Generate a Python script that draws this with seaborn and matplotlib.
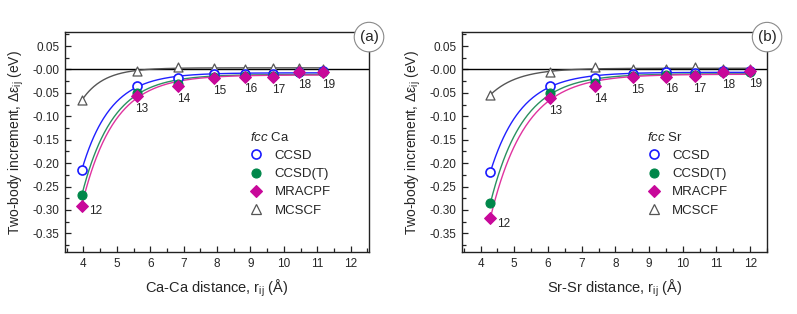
import numpy as np
import pandas as pd
import matplotlib
matplotlib.use("Agg")
import matplotlib.pyplot as plt
import seaborn as sns
from matplotlib.lines import Line2D

# ---------------- data ----------------
shell_labels = ["12", "13", "14", "15", "16", "17", "18", "19"]

x_ca = [3.95, 5.59, 6.84, 7.90, 8.83, 9.68, 10.45, 11.17]
ccsd_ca = [-0.215, -0.036, -0.019, -0.009, -0.009, -0.009, -0.005, -0.004]
ccsdt_ca = [-0.269, -0.050, -0.031, -0.015, -0.013, -0.014, -0.006, -0.005]
mracpf_ca = [-0.291, -0.056, -0.036, -0.018, -0.015, -0.016, -0.006, -0.005]
mcscf_ca = [-0.066, -0.003, 0.006, 0.004, 0.002, 0.004, 0.003, 0.002]

x_sr = [4.29, 6.05, 7.40, 8.51, 9.51, 10.35, 11.20, 12.00]
ccsd_sr = [-0.219, -0.035, -0.019, -0.009, -0.006, -0.007, -0.004, -0.004]
ccsdt_sr = [-0.286, -0.050, -0.029, -0.013, -0.011, -0.011, -0.006, -0.005]
mracpf_sr = [-0.318, -0.060, -0.036, -0.016, -0.015, -0.013, -0.005, -0.004]
mcscf_sr = [-0.054, -0.005, 0.005, 0.001, 0.000, 0.005, 0.002, 0.002]

methods = ["CCSD", "CCSD(T)", "MRACPF", "MCSCF"]

# ---------------- style ----------------
sns.set_theme(style="ticks")
plt.rcParams["font.family"] = ["Liberation Sans", "DejaVu Sans"]
plt.rcParams["mathtext.fontset"] = "custom"
plt.rcParams["mathtext.rm"] = "Liberation Sans"
plt.rcParams["mathtext.it"] = "Liberation Sans:italic"
plt.rcParams["axes.linewidth"] = 1.0

styles = {
    "CCSD": dict(marker="o", fc="white", ec="#1a1aff", line="#2020ff", s=42, lw=1.2),
    "CCSD(T)": dict(marker="o", fc="#00874a", ec="#00874a", line="#2a9060", s=42, lw=0.8),
    "MRACPF": dict(marker="D", fc="#c8089a", ec="#c8089a", line="#e0339f", s=36, lw=0.8),
    "MCSCF": dict(marker="^", fc="white", ec="#555555", line="#555555", s=42, lw=0.9),
}


def fit_curve(x, y):
    x = np.asarray(x, float)
    y = np.asarray(y, float)
    best = None
    for b in np.linspace(0.2, 5.0, 1921):
        A = np.column_stack([np.exp(-b * x), np.ones_like(x)])
        coef, *_ = np.linalg.lstsq(A, y, rcond=None)
        r = np.sum((A @ coef - y) ** 2)
        if best is None or r < best[0]:
            best = (r, b, coef)
    _, b, (a, c) = best
    xx = np.linspace(x[0], x[-1], 300)
    return xx, c + a * np.exp(-b * xx)


fig = plt.figure(figsize=(7.97, 3.14), dpi=100)
ax_a = fig.add_axes([0.0816, 0.197, 0.3814, 0.701])
ax_b = fig.add_axes([0.5797, 0.197, 0.3827, 0.701])

panels = [
    (ax_a, x_ca, [ccsd_ca, ccsdt_ca, mracpf_ca, mcscf_ca], "Ca", "(a)", (3.45, 12.55)),
    (ax_b, x_sr, [ccsd_sr, ccsdt_sr, mracpf_sr, mcscf_sr], "Sr", "(b)", (3.45, 12.4)),
]

for ax, xs, series, elem, tag, xlim in panels:
    ax.axhline(0, color="black", lw=1.0, zorder=1)
    # fitted curves
    for m, ys in zip(methods, series):
        xx, yy = fit_curve(xs, ys)
        cdf = pd.DataFrame({"x": xx, "y": yy})
        sns.lineplot(data=cdf, x="x", y="y", ax=ax, color=styles[m]["line"],
                     lw=1.0, zorder=2, legend=False)
    # markers
    for m in ["MCSCF", "CCSD", "CCSD(T)", "MRACPF"]:
        ys = series[methods.index(m)]
        st = styles[m]
        pdf = pd.DataFrame({"x": xs, "y": ys})
        sns.scatterplot(data=pdf, x="x", y="y", ax=ax, marker=st["marker"],
                        s=st["s"], facecolor=st["fc"], edgecolor=st["ec"],
                        linewidth=st["lw"], zorder=3, legend=False)
    # shell labels
    mr = series[2]
    for i, (xv, yv, lab) in enumerate(zip(xs, mr, shell_labels)):
        if i == 0:
            ax.annotate(lab, (xv, yv), xytext=(5, -4), textcoords="offset points",
                        ha="left", va="center", fontsize=8.5)
        else:
            ax.annotate(lab, (xv, yv), xytext=(4, -5), textcoords="offset points",
                        ha="center", va="top", fontsize=8.5)

    ax.set_xlim(*xlim)
    ax.set_ylim(-0.39, 0.08)
    ax.set_xticks(np.arange(4, 13, 1))
    ax.set_xticks(np.arange(3.5, 12.6, 0.5), minor=True)
    ax.set_yticks(np.arange(-0.35, 0.06, 0.05))
    ax.set_yticks(np.arange(-0.375, 0.08, 0.025), minor=True)
    ax.yaxis.set_major_formatter(matplotlib.ticker.FormatStrFormatter("%.2f"))
    ax.tick_params(which="major", direction="in", length=4, width=0.9, labelsize=8.5, pad=4,
                   color="#222222")
    ax.tick_params(which="minor", direction="in", length=3, width=0.9, color="#222222")
    ax.set_xlabel(elem + "-" + elem + r" distance, r$_{\rm ij}$ (Å)", fontsize=10.5, labelpad=6)
    ax.set_ylabel(r"Two-body increment, Δε$_{\rm ij}$ (eV)", fontsize=10, labelpad=5)
    for sp in ax.spines.values():
        sp.set_linewidth(1.0)
        sp.set_color("#222222")

    handles = []
    for m in methods:
        st = styles[m]
        handles.append(Line2D([], [], ls="none", marker=st["marker"],
                              markerfacecolor=st["fc"], markeredgecolor=st["ec"],
                              markersize=6.5 if m != "MRACPF" else 6, markeredgewidth=st["lw"]))
    leg = ax.legend(handles, methods, loc="upper left", bbox_to_anchor=(0.59, 0.575),
                    frameon=False, fontsize=9.5, handlelength=1.0, handletextpad=0.9,
                    labelspacing=0.45, borderaxespad=0.0,
                    title=r"$\it{fcc}$ " + elem, title_fontsize=9.5, alignment="left")

    ax.text(1.0, 0.977, tag, transform=ax.transAxes, ha="center", va="center",
            fontsize=11, zorder=10, clip_on=False,
            bbox=dict(boxstyle="circle,pad=0.35", fc="white", ec="#8a8a8a", lw=0.8))

fig.savefig("out.png", dpi=100)
